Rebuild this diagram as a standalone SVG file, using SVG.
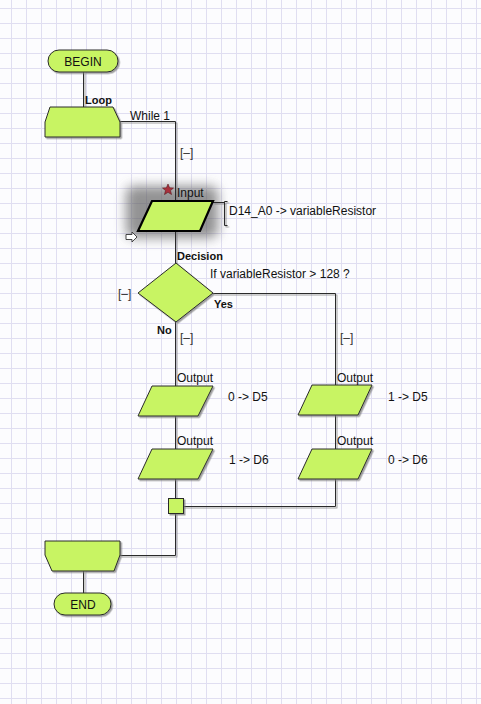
<svg xmlns="http://www.w3.org/2000/svg" width="481" height="704" viewBox="0 0 481 704">
<defs>
<pattern id="grid" patternUnits="userSpaceOnUse" x="11" y="8" width="15" height="15">
<path d="M0.5 0 V15 M0 0.5 H15" stroke="#e0def1" stroke-width="1" fill="none"/>
</pattern>
<filter id="sh" filterUnits="userSpaceOnUse" x="0" y="0" width="481" height="704">
<feDropShadow dx="1.5" dy="1.5" stdDeviation="0.7" flood-color="#777" flood-opacity="0.7"/>
</filter>
<filter id="halo" filterUnits="userSpaceOnUse" x="100" y="160" width="140" height="100">
<feGaussianBlur stdDeviation="6"/>
</filter>
<style>
.node{fill:#c8f464;stroke:#2a2a2a;stroke-width:1;filter:url(#sh)}
.sel{fill:#c8f464;stroke:#000;stroke-width:2.2}
.wire{fill:none;stroke:#2a2a2a;stroke-width:1;filter:url(#sh)}
.t{font-family:"Liberation Sans",Arial,sans-serif;font-size:12px;fill:#111}
.b{font-family:"Liberation Sans",Arial,sans-serif;font-size:11px;font-weight:bold;fill:#111}
.mid{text-anchor:middle}
.br{font-family:"Liberation Sans",Arial,sans-serif;font-size:12px;fill:#333}
</style>
</defs>
<rect width="481" height="704" fill="#fcfcfe"/>
<rect width="481" height="704" fill="url(#grid)"/>

<g id="input-selection">
<rect x="126" y="186" width="92" height="52" rx="8" fill="#5a5a5a" opacity="0.65" filter="url(#halo)"/>
</g>

<g id="connectors">
<path class="wire" d="M83.5 72 V107"/>
<path class="wire" d="M120 121.5 H175.5 V263"/>
<path class="wire" d="M213 293.5 H335.5 V385"/>
<path class="wire" d="M175.5 322 V386 M175.5 416 V449 M175.5 479 V498"/>
<path class="wire" d="M335.5 415 V449 M335.5 479 V506.5 H183"/>
<path class="wire" d="M175.5 513 V555.5 H120"/>
<path class="wire" d="M83.5 571 V593"/>
<path class="wire" d="M213 202.5 H224.5 M227.5 201.5 H224.5 V225.5 H227.5"/>
</g>

<g id="begin">
<rect class="node" x="48" y="50" width="70" height="22" rx="11"/>
<text class="t mid" x="83" y="66">BEGIN</text>
</g>

<g id="loop">
<polygon class="node" points="50,107 113,107 120,122 120,137 45,137 45,122"/>
<text class="b" x="85" y="104">Loop</text>
<text class="t" x="130" y="120">While 1</text>
<text class="br" x="180" y="157">[–]</text>
</g>

<g id="input">
<polygon class="sel" points="152,201 213,201 200,231 138,231"/>
<polygon points="168,184 169.6,187.8 173.5,188 170.5,190.6 171.5,194.5 168,192.3 164.5,194.5 165.5,190.6 162.5,188 166.4,187.8" fill="#a8303c" stroke="#5a1a20" stroke-width="0.6"/>
<polygon points="126,234.5 132,234.5 132,232 137,237 132,242 132,239.5 126,239.5" fill="#fff" stroke="#333" stroke-width="0.9"/>
<text class="t" x="177" y="197">Input</text>
<text class="t" x="229" y="215">D14_A0 -&gt; variableResistor</text>
</g>

<g id="decision">
<polygon class="node" points="176,263 213,293 176,322 138,293"/>
<text class="b" x="177" y="260">Decision</text>
<text class="t" x="210" y="278">If variableResistor &gt; 128 ?</text>
<text class="br" x="118" y="298">[–]</text>
<text class="b" x="214" y="308">Yes</text>
<text class="b" x="157" y="334">No</text>
<text class="br" x="180" y="342">[–]</text>
<text class="br" x="340" y="342">[–]</text>
</g>

<g id="output1">
<polygon class="node" points="152,386 213,386 198,416 138,416"/>
<text class="t" x="177" y="382">Output</text>
<text class="t" x="228" y="401">0 -&gt; D5</text>
</g>

<g id="output2">
<polygon class="node" points="152,449 213,449 198,479 138,479"/>
<text class="t" x="177" y="445">Output</text>
<text class="t" x="229" y="464">1 -&gt; D6</text>
</g>

<g id="output3">
<polygon class="node" points="312,385 372,385 358,415 298,415"/>
<text class="t" x="337" y="382">Output</text>
<text class="t" x="388" y="401">1 -&gt; D5</text>
</g>

<g id="output4">
<polygon class="node" points="312,449 372,449 358,479 298,479"/>
<text class="t" x="337" y="445">Output</text>
<text class="t" x="388" y="464">0 -&gt; D6</text>
</g>

<g id="junction">
<rect class="node" x="168.5" y="498.5" width="15" height="15"/>
</g>

<g id="loop-end">
<polygon class="node" points="45,541 120,541 120,555 114,571 52,571 45,555"/>
</g>

<g id="end">
<rect class="node" x="54" y="593" width="57" height="22" rx="11"/>
<text class="t mid" x="83" y="609">END</text>
</g>
</svg>
